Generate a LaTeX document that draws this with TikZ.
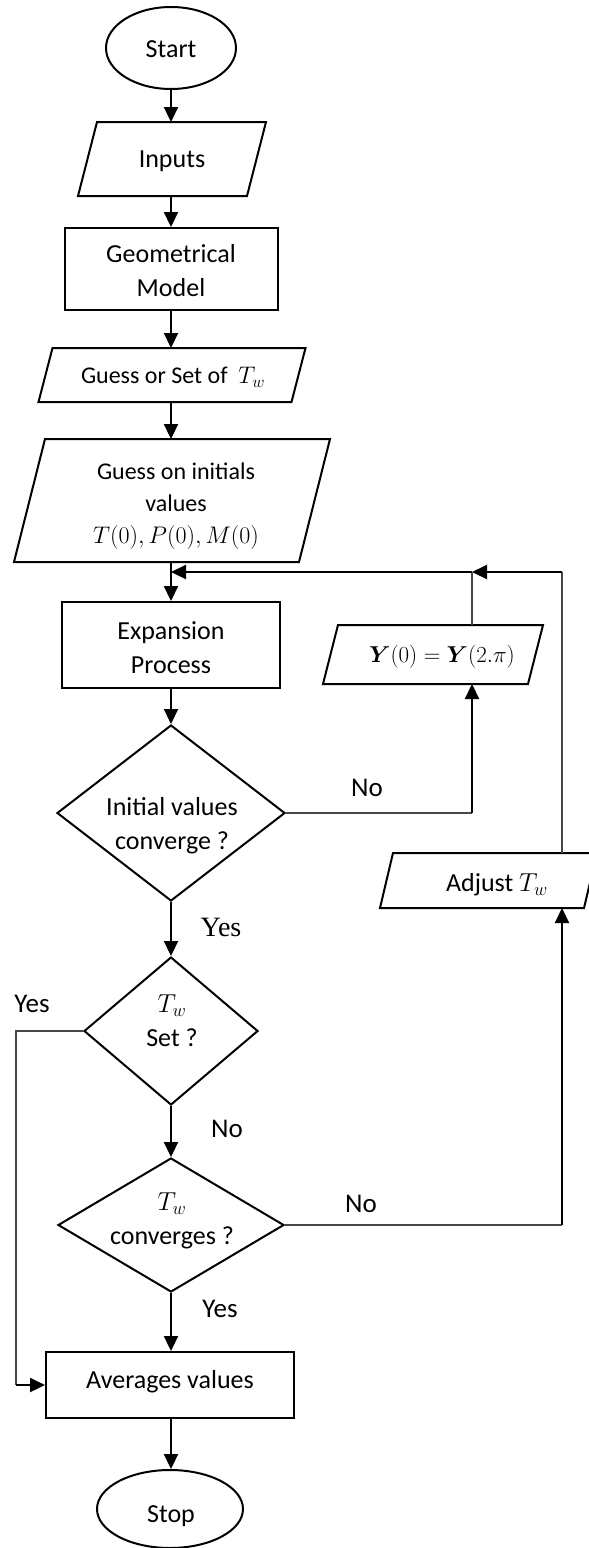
\documentclass[tikz,border=0pt]{standalone}
\usepackage{fix-cm}
\usepackage{amsmath,bm}
\usepackage[no-math]{fontspec}
\setmainfont{Carlito}
\newfontfamily\timesf{Liberation Serif}
\usetikzlibrary{shapes.geometric,arrows.meta,calc}

\tikzset{
  shapeline/.style={draw=black, line width=2pt},
  bigtxt/.style={font=\fontsize{26}{34}\selectfont, align=center, inner sep=0pt},
  smalltxt/.style={font=\fontsize{24}{32}\selectfont, align=center, inner sep=0pt},
  terminal/.style={ellipse, shapeline, inner sep=0pt},
  process/.style={rectangle, shapeline, inner sep=0pt},
  decision/.style={diamond, shapeline, inner sep=0pt},
  iobody/.style={rectangle, draw=none, inner sep=0pt, outer sep=0pt},
  flow/.style={line width=2.2pt, -{Triangle[length=15pt,width=14pt]}},
  thinline/.style={line width=1.1pt, draw=black!72},
  lab/.style={font=\fontsize{27}{32}\selectfont, inner sep=0pt},
  serlab/.style={font=\timesf\fontsize{28}{32}\selectfont, inner sep=0pt},
}

% name, cx, cy, w, h, slant
\newcommand\ioshape[6]{%
  \node[iobody, minimum width=#4pt, minimum height=#5pt] (#1) at (#2,#3) {};
  \draw[shapeline] ($(#1.north west)+(#6/2,0)$) -- ($(#1.north east)+(#6/2,0)$)
     -- ($(#1.south east)+(-#6/2,0)$) -- ($(#1.south west)+(-#6/2,0)$) -- cycle;
}

\begin{document}
\begin{tikzpicture}[x=1pt,y=-1pt]
\useasboundingbox (0,0) rectangle (589,1548);

% ---------- nodes ----------
\node[terminal, minimum width=130pt, minimum height=82pt] (start) at (171,48) {};
\node[bigtxt] (startt) at (171,49) {Start};

\ioshape{inputs}{172}{159}{169}{74}{19}
\node[bigtxt] (inputst) at (172,161) {Inputs};

\node[process, minimum width=213pt, minimum height=82pt] (geo) at (171,269) {};
\node[bigtxt] (geot) at (171,271) {Geometrical\\Model};

\ioshape{guess}{172}{375}{253}{54}{14}
\node[smalltxt] (guesst) at (173,377) {Guess or Set of~ $T_w$};

\ioshape{init}{172}{500.5}{285}{123}{31}
\node[smalltxt] (initt) at (176,506) {Guess on initials\\values\\$T(0),P(0),M(0)$};

\coordinate (fb) at (171,572);
\coordinate (rx) at (562,0);
\coordinate (yx) at (472,0);
\coordinate (lx) at (16,0);

\node[process, minimum width=218pt, minimum height=86pt] (exp) at (171,645) {};
\node[bigtxt] (expt) at (171,648) {Expansion\\Process};

\ioshape{ybox}{433}{654.5}{205}{59}{15}
\node[font=\fontsize{23}{30}\selectfont, inner sep=0pt] (yboxt) at (442,657) {$\bm{Y}(0)=\bm{Y}(2.\pi)$};

\node[decision, minimum width=228pt, minimum height=176pt] (d1) at (171,813) {};
\node[bigtxt] (d1t) at (172,826) {Initial values\\converge ?};

\ioshape{adjust}{488.5}{880.5}{204}{55}{13}
\node[bigtxt] (adjustt) at (497,885) {Adjust $T_w$};

\node[decision, minimum width=174pt, minimum height=148pt] (d2) at (171,1031) {};
\node[bigtxt] (d2t) at (172,1021) {$T_w$\\Set ?};

\node[decision, minimum width=226pt, minimum height=134pt] (d3) at (171,1225) {};
\node[bigtxt] (d3t) at (172,1221) {$T_w$\\converges ?};

\node[process, minimum width=248pt, minimum height=66pt] (avg) at (170,1385) {};
\node[bigtxt] (avgt) at (170,1382) {Averages values};

\node[terminal, minimum width=146pt, minimum height=78pt] (stop) at (170,1509) {};
\node[bigtxt] (stopt) at (171,1516) {Stop};

% ---------- connectors ----------
\draw[flow] (start.south) -- (inputs.north -| start.south);
\draw[flow] (inputs.south -| start.south) -- (geo.north);
\draw[flow] (geo.south) -- (guess.north -| geo.south);
\draw[flow] (guess.south -| geo.south) -- (init.north -| geo.south);
\draw[flow] (init.south -| geo.south) -- (exp.north);
\draw[flow] (exp.south) -- (d1.north);

% feedback loop
\draw[thinline] (adjust.north -| rx) -- (rx |- fb);
\draw[thinline] (ybox.north -| yx) -- (yx |- fb);
\draw[flow] (rx |- fb) -- (yx |- fb);
\draw[flow] (yx |- fb) -- (fb);

% initial values not converged
\draw[thinline] (d1.east) -- (yx |- d1.east);
\draw[flow] (yx |- d1.east) -- (ybox.south -| yx);
\node[lab] (no1) at (367,788) {No};

% converged
\draw[flow] (d1.south) -- (d2.north);
\node[serlab] (yes1) at (221,927) {Yes};

% Tw set -> averages
\draw[thinline] (d2.west) -- (lx |- d2.west) -- (lx |- avg.west);
\draw[flow] (lx |- avg.west) -- (avg.west);
\node[lab] (yes2) at (32,1004) {Yes};

\draw[flow] (d2.south) -- (d3.north);
\node[lab] (no2) at (227,1129) {No};

% Tw not converged -> adjust
\draw[thinline] (d3.east) -- (rx |- d3.east);
\draw[flow] (rx |- d3.east) -- (adjust.south -| rx);
\node[lab] (no3) at (361,1204) {No};

\draw[flow] (d3.south) -- (avg.north -| d3.south);
\node[lab] (yes3) at (220,1309) {Yes};

\draw[flow] (avg.south -| d3.south) -- (stop.north -| d3.south);
\end{tikzpicture}
\end{document}
